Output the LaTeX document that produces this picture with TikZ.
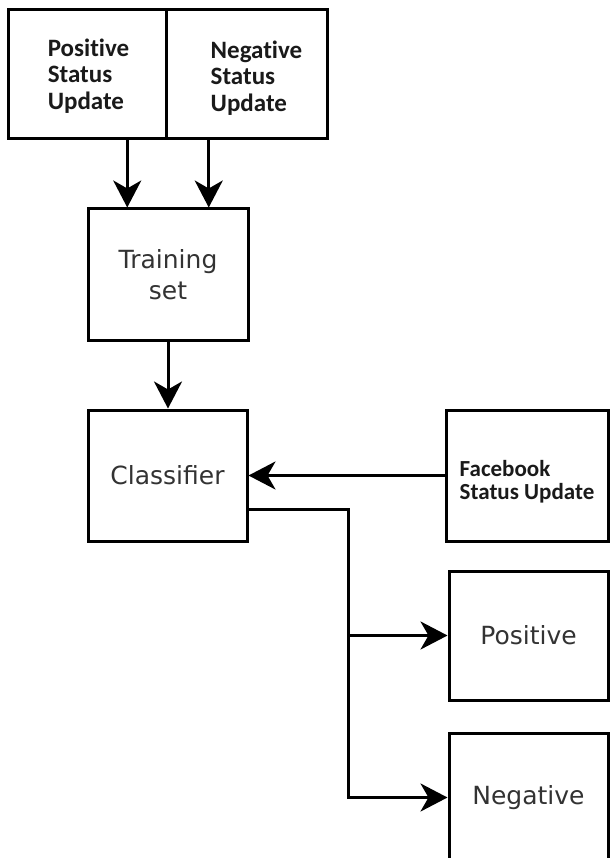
\documentclass[tikz,border=0pt]{standalone}
\usepackage{fontspec}
\usetikzlibrary{arrows.meta,calc}
\newfontfamily\carl[Ligatures=NoCommon]{Carlito}
\newfontfamily\dvs{DejaVu Sans}
\definecolor{txtgray}{HTML}{333333}
\definecolor{txtdark}{HTML}{1A1A1A}
\begin{document}
\begin{tikzpicture}[x=1pt,y=-1pt,
  box/.style={draw=black, line width=3pt, rectangle, inner sep=0pt},
  arr/.style={line width=3pt, -{Stealth[length=27pt,width=28pt,inset=8pt]}},
  boldtxt/.style={font=\carl\bfseries\fontsize{25}{26.5}\selectfont, align=left, text=txtdark, inner sep=0pt},
  fbtxt/.style={font=\carl\bfseries\fontsize{23}{23}\selectfont, align=left, text=txtdark, inner sep=0pt},
  regtxt/.style={font=\dvs\fontsize{25}{31}\selectfont, align=center, text=txtgray}]
\useasboundingbox[fill=white] (0,0) rectangle (610,858);

% boxes
\node[box, minimum width=158pt, minimum height=129pt] (posS) at (87,74.5) {};
\node[box, minimum width=161pt, minimum height=129pt] (negS) at (246.5,74.5) {};
\node[box, regtxt, minimum width=160pt, minimum height=131pt] (train) at (168,274.5) {Training\\set};
\node[box, regtxt, minimum width=159pt, minimum height=131pt] (cls) at (167.5,475.5) {Classifier};
\node[box, minimum width=162pt, minimum height=131pt] (fb) at (527,475.5) {};
\node[box, regtxt, minimum width=159pt, minimum height=129pt] (posR) at (528.5,635.5) {Positive};
\node[box, regtxt, minimum width=159pt, minimum height=129pt] (negR) at (528.5,797.5) {Negative};

% texts of boxes
\node[boldtxt] (posSt) at (88.5,76) {Positive\\Status\\Update};
\node[boldtxt] (negSt) at (256.5,78) {Negative\\Status\\Update};
\node[fbtxt] (fbt) at (527,482) {Facebook\\Status Update};

% connectors
\coordinate (tl) at ($(train.north west)!.25!(train.north east)$);
\coordinate (tr) at ($(train.north west)!.75!(train.north east)$);
\draw[arr] (posS.south -| tl) -- (tl);
\draw[arr] (negS.south -| tr) -- (tr);
\draw[arr] (train.south) -- (train.south |- cls.north);
\draw[arr] (fb.west) -- (cls.east);
\coordinate (co) at ($(cls.north east)!.75!(cls.south east)$);
\coordinate (j) at (348,509);
\draw[arr] (co) -- (j) |- (negR.west);
\draw[arr] (j |- posR.west) -- (posR.west);
\end{tikzpicture}
\end{document}
